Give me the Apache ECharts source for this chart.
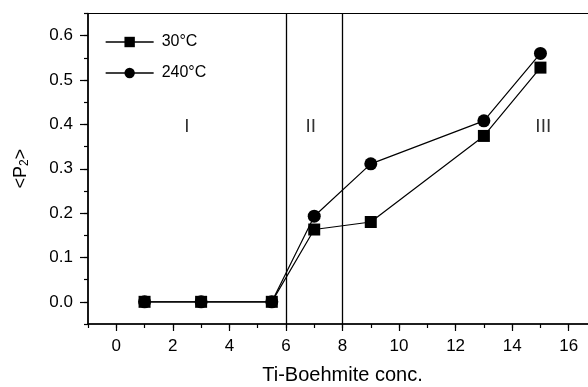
<!DOCTYPE html>
<html>
<head>
<meta charset="utf-8">
<script src="https://cdn.jsdelivr.net/npm/echarts@6/dist/echarts.min.js"></script>
<style>
  html, body { margin: 0; padding: 0; background: #fff; }
  #chart { width: 588px; height: 387px; }
</style>
</head>
<body>
<div id="chart"></div>
<script>
const concentration = [1, 3, 5.5, 7, 9, 13, 15];
const p2At30C = [0, 0, 0, 0.163, 0.18, 0.374, 0.528];
const p2At240C = [0, 0, 0, 0.193, 0.311, 0.408, 0.56];
const regionBorders = [6, 8];
const regionNames = ['I', 'II', 'III'];
const regionX = [2.5, 6.88, 15.1];
const regionY = [0.394, 0.394, 0.394];
const xTicks = [0, 2, 4, 6, 8, 10, 12, 14, 16];
const yTicks = [0, 0.1, 0.2, 0.3, 0.4, 0.5, 0.6];

const font = "'Liberation Sans', Arial, sans-serif";

const pair = (xs, ys) => xs.map((x, i) => [x, ys[i]]);

const chart = echarts.init(document.getElementById('chart'), null, { renderer: 'canvas' });

const option = {
  animation: false,
  textStyle: { fontFamily: font, color: '#000' },
  grid: {
    left: 88,
    top: 13.5,
    bottom: 63,
    width: 509,
    outerBoundsMode: 'none',
    show: true,
    borderColor: '#000',
    borderWidth: 1.2,
    backgroundColor: 'transparent'
  },
  legend: {
    orient: 'vertical',
    left: 105,
    top: 34,
    padding: 0,
    itemWidth: 48,
    itemHeight: 13,
    itemGap: 15,
    data: ['30°C', '240°C'],
    lineStyle: { color: '#000', width: 1.3 },
    itemStyle: { color: '#000' },
    textStyle: { fontSize: 16, color: '#000', fontFamily: font, padding: [0, 0, 0, 3] }
  },
  xAxis: [
    {
      type: 'value',
      min: -1,
      max: 17,
      name: 'Ti-Boehmite conc.',
      nameLocation: 'middle',
      nameGap: 41,
      nameTextStyle: { fontSize: 20, color: '#000', fontFamily: font },
      splitLine: { show: false },
      axisLine: { onZero: false, lineStyle: { color: '#000', width: 1.5 } },
      axisTick: { customValues: xTicks, length: 7, lineStyle: { color: '#000', width: 1.2 } },
      axisLabel: { customValues: xTicks, margin: 14, fontSize: 17, color: '#000', fontFamily: font }
    },
    {
      type: 'value',
      min: -1,
      max: 17,
      interval: 1,
      position: 'bottom',
      splitLine: { show: false },
      axisLine: { show: false, onZero: false },
      axisTick: { length: 4, lineStyle: { color: '#000', width: 1.2 } },
      axisLabel: { show: false }
    }
  ],
  yAxis: [
    {
      type: 'value',
      min: -0.05,
      max: 0.65,
      name: '<P{sub|2}>',
      nameLocation: 'middle',
      nameGap: 57,
      nameRotate: 90,
      nameTextStyle: {
        fontSize: 18,
        color: '#000',
        fontFamily: font,
        rich: { sub: { fontSize: 12, verticalAlign: 'bottom', padding: [8, 0, 0, 0] } }
      },
      splitLine: { show: false },
      axisLine: { show: true, onZero: false, lineStyle: { color: '#000', width: 1.5 } },
      axisTick: { show: true, customValues: yTicks, length: 8, lineStyle: { color: '#000', width: 1.2 } },
      axisLabel: {
        customValues: yTicks,
        margin: 15,
        fontSize: 17,
        color: '#000',
        fontFamily: font,
        formatter: (v) => v.toFixed(1)
      }
    },
    {
      type: 'value',
      min: -0.05,
      max: 0.65,
      interval: 0.05,
      position: 'left',
      splitLine: { show: false },
      axisLine: { show: false, onZero: false },
      axisTick: { show: true, length: 4, lineStyle: { color: '#000', width: 1.2 } },
      axisLabel: { show: false }
    }
  ],
  series: [
    {
      name: '240°C',
      type: 'line',
      data: pair(concentration, p2At240C),
      symbol: 'circle',
      symbolSize: 13,
      z: 2,
      lineStyle: { color: '#000', width: 1.2 },
      itemStyle: { color: '#000' }
    },
    {
      name: '30°C',
      type: 'line',
      data: pair(concentration, p2At30C),
      symbol: 'rect',
      symbolSize: 12,
      z: 3,
      lineStyle: { color: '#000', width: 1.2 },
      itemStyle: { color: '#000' },
      markLine: {
        silent: true,
        symbol: 'none',
        label: { show: false },
        lineStyle: { color: '#000', width: 1.3, type: 'solid' },
        data: regionBorders.map((x) => ({ xAxis: x }))
      }
    },
    {
      name: 'regions',
      type: 'scatter',
      silent: true,
      symbolSize: 0,
      data: regionNames.map((n, i) => ({ name: n, value: [regionX[i], regionY[i]] })),
      label: {
        show: true,
        position: 'inside',
        formatter: '{b}',
        fontSize: 19,
        color: '#000',
        fontFamily: font
      }
    }
  ]
};

chart.setOption(option);
</script>
</body>
</html>
